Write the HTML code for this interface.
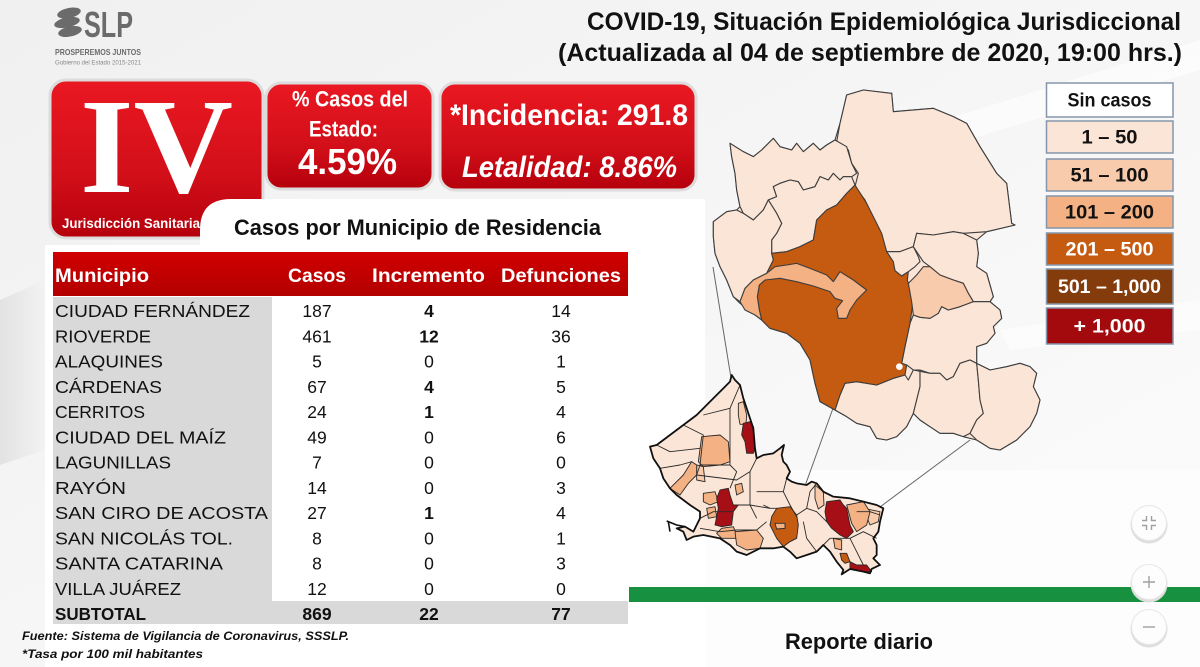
<!DOCTYPE html>
<html><head><meta charset="utf-8"><style>
html,body{margin:0;padding:0;background:#f6f6f6;}
svg{display:block;font-family:"Liberation Sans",sans-serif;}
</style></head><body>
<svg width="1200" height="667" viewBox="0 0 1200 667" xmlns="http://www.w3.org/2000/svg">
<defs>
<linearGradient id="bg" x1="0" y1="0" x2="1" y2="1">
<stop offset="0" stop-color="#f0f0f0"/><stop offset="0.5" stop-color="#f6f6f6"/><stop offset="1" stop-color="#fcfcfc"/>
</linearGradient>
<linearGradient id="red" x1="0" y1="0" x2="0" y2="1">
<stop offset="0" stop-color="#ea1822"/><stop offset="0.6" stop-color="#d20f19"/><stop offset="1" stop-color="#b4000c"/>
</linearGradient>
<linearGradient id="hdr" x1="0" y1="0" x2="0" y2="1">
<stop offset="0" stop-color="#d00000"/><stop offset="1" stop-color="#b30000"/>
</linearGradient>
<linearGradient id="streak" x1="0" y1="0" x2="1" y2="0">
<stop offset="0" stop-color="#dedede"/><stop offset="1" stop-color="#f2f2f2"/>
</linearGradient>
</defs>
<rect width="1200" height="667" fill="url(#bg)"/>
<polygon points="0,300 45,280 45,450 0,465" fill="url(#streak)" opacity="0.8"/>
<polygon points="880,140 1200,40 1200,70 900,160" fill="#ffffff" opacity="0.6"/>
<polygon points="1000,330 1200,300 1200,330 1010,350" fill="#ffffff" opacity="0.5"/>
<rect x="600" y="470" width="600" height="197" fill="#fdfdfd"/>

<!-- logo -->
<g fill="#6b6b6b">
<ellipse cx="69" cy="13" rx="12" ry="5" transform="rotate(-12 69 13)"/>
<ellipse cx="67" cy="22.5" rx="13" ry="5" transform="rotate(-12 67 22.5)"/>
<ellipse cx="70" cy="31.5" rx="12" ry="5" transform="rotate(-12 70 31.5)"/>
<text x="84" y="37" font-size="36" font-weight="bold" textLength="49" lengthAdjust="spacingAndGlyphs">SLP</text>
<text x="55" y="55" font-size="8.5" font-weight="bold" textLength="86" lengthAdjust="spacingAndGlyphs">PROSPEREMOS JUNTOS</text>
<text x="55" y="64.5" font-size="6.5" fill="#888" textLength="86" lengthAdjust="spacingAndGlyphs">Gobierno del Estado 2015-2021</text>
</g>

<!-- title -->
<text x="587" y="30" font-size="25" font-weight="bold" fill="#111" textLength="594" lengthAdjust="spacingAndGlyphs">COVID-19, Situación Epidemiológica Jurisdiccional</text>
<text x="558" y="61" font-size="25" font-weight="bold" fill="#111" textLength="624" lengthAdjust="spacingAndGlyphs">(Actualizada al 04 de septiembre de 2020, 19:00 hrs.)</text>

<!-- red boxes -->
<rect x="50" y="80" width="213" height="158" rx="16" fill="url(#red)" stroke="#dcdcdc" stroke-width="3"/>
<rect x="266" y="83" width="167" height="106" rx="15" fill="url(#red)" stroke="#dcdcdc" stroke-width="3"/>
<rect x="440" y="83" width="256" height="107" rx="15" fill="url(#red)" stroke="#dcdcdc" stroke-width="3"/>
<text x="80" y="192" font-family="Liberation Serif,serif" font-weight="bold" font-size="136" fill="#fff" textLength="153" lengthAdjust="spacingAndGlyphs">IV</text>
<text x="350" y="106.5" font-size="22" font-weight="bold" fill="#fff" text-anchor="middle" textLength="116" lengthAdjust="spacingAndGlyphs">% Casos del</text>
<text x="343.5" y="136.5" font-size="22" font-weight="bold" fill="#fff" text-anchor="middle" textLength="69" lengthAdjust="spacingAndGlyphs">Estado:</text>
<text x="347.5" y="174" font-size="36" font-weight="bold" fill="#fff" text-anchor="middle" textLength="99" lengthAdjust="spacingAndGlyphs">4.59%</text>
<text x="450" y="125" font-size="30" font-weight="bold" fill="#fff" textLength="238" lengthAdjust="spacingAndGlyphs">*Incidencia: 291.8</text>
<text x="462" y="177" font-size="30" font-weight="bold" font-style="italic" fill="#fff" textLength="215" lengthAdjust="spacingAndGlyphs">Letalidad: 8.86%</text>

<!-- white panel -->
<path d="M45,245 H200 V230 Q200,199 231,199 H705 V667 H45 Z" fill="#ffffff"/>
<text x="62" y="228" font-size="14" font-weight="bold" fill="#fff" textLength="138" lengthAdjust="spacingAndGlyphs">Jurisdicción Sanitaria</text>
<text x="234" y="235" font-size="22" font-weight="bold" fill="#111" textLength="367" lengthAdjust="spacingAndGlyphs">Casos por Municipio  de Residencia</text>

<!-- table -->
<rect x="53" y="252" width="575" height="44" fill="url(#hdr)"/>
<rect x="53" y="297" width="219" height="304" fill="#d9d9d9"/>
<rect x="53" y="601" width="575" height="23" fill="#d9d9d9"/>
<g font-size="19" font-weight="bold" fill="#fff">
<text x="55" y="282" textLength="94" lengthAdjust="spacingAndGlyphs">Municipio</text>
<text x="317" y="282" text-anchor="middle" textLength="58" lengthAdjust="spacingAndGlyphs">Casos</text>
<text x="428.5" y="282" text-anchor="middle" textLength="113" lengthAdjust="spacingAndGlyphs">Incremento</text>
<text x="561" y="282" text-anchor="middle" textLength="120" lengthAdjust="spacingAndGlyphs">Defunciones</text>
</g>
<g font-size="17.5" fill="#111">
<text x="55" y="317" textLength="195" lengthAdjust="spacingAndGlyphs">CIUDAD FERNÁNDEZ</text>
<text x="55" y="342.25" textLength="96" lengthAdjust="spacingAndGlyphs">RIOVERDE</text>
<text x="55" y="367.5" textLength="108" lengthAdjust="spacingAndGlyphs">ALAQUINES</text>
<text x="55" y="392.75" textLength="107" lengthAdjust="spacingAndGlyphs">CÁRDENAS</text>
<text x="55" y="418" textLength="90" lengthAdjust="spacingAndGlyphs">CERRITOS</text>
<text x="55" y="443.25" textLength="171" lengthAdjust="spacingAndGlyphs">CIUDAD DEL MAÍZ</text>
<text x="55" y="468.5" textLength="116" lengthAdjust="spacingAndGlyphs">LAGUNILLAS</text>
<text x="55" y="493.75" textLength="71" lengthAdjust="spacingAndGlyphs">RAYÓN</text>
<text x="55" y="519" textLength="213" lengthAdjust="spacingAndGlyphs">SAN CIRO DE ACOSTA</text>
<text x="55" y="544.25" textLength="178" lengthAdjust="spacingAndGlyphs">SAN NICOLÁS TOL.</text>
<text x="55" y="569.5" textLength="168" lengthAdjust="spacingAndGlyphs">SANTA CATARINA</text>
<text x="55" y="594.75" textLength="126" lengthAdjust="spacingAndGlyphs">VILLA JUÁREZ</text>
</g>
<g font-size="17.5" fill="#111" text-anchor="middle">
<text x="317" y="317">187</text><text x="317" y="342.25">461</text><text x="317" y="367.5">5</text>
<text x="317" y="392.75">67</text><text x="317" y="418">24</text><text x="317" y="443.25">49</text>
<text x="317" y="468.5">7</text><text x="317" y="493.75">14</text><text x="317" y="519">27</text>
<text x="317" y="544.25">8</text><text x="317" y="569.5">8</text><text x="317" y="594.75">12</text>
<text x="429" y="317" font-weight="bold">4</text><text x="429" y="342.25" font-weight="bold">12</text><text x="429" y="367.5">0</text>
<text x="429" y="392.75" font-weight="bold">4</text><text x="429" y="418" font-weight="bold">1</text><text x="429" y="443.25">0</text>
<text x="429" y="468.5">0</text><text x="429" y="493.75">0</text><text x="429" y="519" font-weight="bold">1</text>
<text x="429" y="544.25">0</text><text x="429" y="569.5">0</text><text x="429" y="594.75">0</text>
<text x="561" y="317">14</text><text x="561" y="342.25">36</text><text x="561" y="367.5">1</text>
<text x="561" y="392.75">5</text><text x="561" y="418">4</text><text x="561" y="443.25">6</text>
<text x="561" y="468.5">0</text><text x="561" y="493.75">3</text><text x="561" y="519">4</text>
<text x="561" y="544.25">1</text><text x="561" y="569.5">3</text><text x="561" y="594.75">0</text>
</g>
<g font-size="17.5" font-weight="bold" fill="#111">
<text x="55" y="620" textLength="91" lengthAdjust="spacingAndGlyphs">SUBTOTAL</text>
<text x="317" y="620" text-anchor="middle">869</text>
<text x="429" y="620" text-anchor="middle">22</text>
<text x="561" y="620" text-anchor="middle">77</text>
</g>
<text x="22" y="640" font-size="12" font-weight="bold" font-style="italic" fill="#111" textLength="327" lengthAdjust="spacingAndGlyphs">Fuente: Sistema de Vigilancia de Coronavirus, SSSLP.</text>
<text x="22" y="658" font-size="12" font-weight="bold" font-style="italic" fill="#111" textLength="181" lengthAdjust="spacingAndGlyphs">*Tasa por 100 mil habitantes</text>

<!-- green bar -->
<rect x="629" y="587" width="571" height="15" fill="#17903f"/>
<text x="785" y="649" font-size="22" font-weight="bold" fill="#111" textLength="148" lengthAdjust="spacingAndGlyphs">Reporte diario</text>

<!-- connector lines -->
<g stroke="#666" stroke-width="1" fill="none">
<line x1="713" y1="267" x2="750" y2="495"/>
<line x1="836" y1="400" x2="783" y2="547"/>
<line x1="970" y1="440" x2="880" y2="507"/>
</g>

<!-- upper map -->
<g transform="translate(700,80) scale(0.33333)" stroke="#3d3d3d" stroke-width="1.1" stroke-linejoin="round">
<g fill="#fbe5d6">
<polygon vector-effect="non-scaling-stroke" points="440,45 490,30 575,40 580,95 700,85 760,110 800,130 840,200 890,280 920,310 935,430 945,435 860,455 830,480 835,520 830,560 860,580 880,650 870,665 900,690 905,715 880,740 885,760 860,790 830,800 830,850 870,870 920,860 960,850 990,860 1010,880 1000,920 1020,960 1010,1000 990,1040 950,1080 900,1110 870,1105 830,1080 790,1070 760,1060 720,1060 690,1040 660,1020 640,1000 620,1040 590,1070 560,1080 530,1075 510,1040 470,1030 440,1010 405,990 360,965 345,910 330,840 300,790 260,760 210,745 185,720 160,700 120,670 100,650 80,600 60,560 45,520 40,470 40,425 80,395 110,390 120,380 110,330 105,280 95,230 90,190 130,215 160,230 185,210 220,175 240,200 275,210 290,190 310,215 340,190 360,210 380,195 405,180 420,130"/>
<polygon vector-effect="non-scaling-stroke" points="440,45 490,30 575,40 580,95 700,85 760,110 800,130 840,200 890,280 920,310 935,430 945,435 860,455 790,460 760,455 700,465 650,460 640,500 600,515 560,515 545,470 520,420 495,360 465,320 475,280 455,250 445,210 410,185 420,130"/>
<polygon vector-effect="non-scaling-stroke" points="90,190 130,215 160,230 185,210 220,175 240,200 275,210 290,190 310,215 340,190 360,210 380,195 405,180 440,200 455,250 470,280 455,290 430,290 420,300 400,280 385,300 360,290 345,320 310,330 295,305 270,300 240,310 220,320 230,350 205,360 190,390 160,420 130,400 120,380 110,330 105,280 95,230"/>
<polygon vector-effect="non-scaling-stroke" points="220,320 240,310 270,300 295,305 310,330 345,320 360,290 385,300 400,280 420,300 430,290 455,290 465,315 440,340 410,375 380,390 350,420 340,480 300,500 260,515 215,520 215,480 230,460 245,430 230,400 205,360 230,350"/>
<polygon vector-effect="non-scaling-stroke" points="40,425 80,395 110,390 130,400 160,420 190,390 205,360 230,400 245,430 230,460 215,480 215,520 220,540 200,580 160,600 135,625 120,665 100,650 80,600 60,560 45,520 40,470"/>
<polygon vector-effect="non-scaling-stroke" points="640,500 650,460 700,465 760,455 790,460 830,480 835,520 830,560 860,580 880,650 870,665 820,665 805,640 790,610 760,600 720,585 690,560 670,545 660,530 650,515"/>
<polygon vector-effect="non-scaling-stroke" points="630,730 640,705 660,712 690,715 715,700 725,680 745,690 780,680 820,665 870,665 900,690 905,715 880,740 885,760 860,790 830,800 830,850 810,840 780,850 760,890 740,900 720,880 690,880 660,870 640,870 620,855 605,850 615,800"/>
<polygon vector-effect="non-scaling-stroke" points="405,990 420,945 435,910 470,905 530,915 580,895 615,885 625,900 640,870 660,870 660,920 650,960 640,1000 620,1040 590,1070 560,1080 530,1075 510,1040 470,1030 440,1010"/>
<polygon vector-effect="non-scaling-stroke" points="640,870 690,880 720,880 740,900 760,890 780,850 810,840 830,850 835,900 840,960 850,1000 830,1020 810,1060 790,1070 760,1060 720,1060 690,1040 660,1020 640,1000 650,960 660,920 660,870"/>
<polygon vector-effect="non-scaling-stroke" points="830,850 870,870 920,860 960,850 990,860 1010,880 1000,920 1020,960 1010,1000 990,1040 950,1080 900,1110 870,1105 830,1080 810,1060 830,1020 850,1000 840,960 835,900"/>
<polygon vector-effect="non-scaling-stroke" points="560,515 600,515 640,500 655,530 660,545 645,560 625,575 605,588 585,572 578,545"/>
</g>
<polygon vector-effect="non-scaling-stroke" fill="#c55a11" points="465,315 500,370 545,460 560,515 580,545 585,572 605,588 625,575 622,600 640,660 630,730 615,800 605,850 620,855 615,885 580,895 530,915 470,905 435,910 420,945 405,990 360,965 345,910 330,840 300,790 260,760 210,745 185,720 178,690 172,650 178,615 195,600 200,580 220,540 215,520 260,515 300,500 340,480 350,420 380,390 410,375 440,340"/>
<polygon vector-effect="non-scaling-stroke" fill="#f4b183" points="120,665 135,625 160,600 200,580 225,560 260,555 290,550 330,565 380,585 400,605 420,575 460,600 500,630 470,660 450,690 440,715 415,715 410,685 428,662 405,655 390,635 340,618 290,605 240,595 195,600 178,615 172,650 178,690 185,720 165,705 135,690"/>
<polygon vector-effect="non-scaling-stroke" fill="#f8cbad" points="625,610 650,585 670,560 690,560 720,585 760,600 790,610 805,640 820,665 780,680 745,690 725,680 715,700 690,715 660,712 640,705 635,665"/>
<circle cx="598" cy="860" r="10" fill="#fff" stroke="none"/>
</g>

<!-- state map -->
<g transform="translate(650,365) scale(0.33333)" stroke-linejoin="round">
<polygon fill="#fbe5d6" stroke="none" points="245,30 255,45 270,60 280,100 290,130 300,160 310,190 315,250 320,280 340,270 370,265 390,250 402,240 395,270 400,290 410,300 420,320 410,340 425,350 440,355 470,360 485,350 500,355 520,380 550,395 600,400 640,410 680,420 700,430 695,450 690,470 685,500 670,520 680,540 680,570 670,580 690,600 665,612 660,625 640,620 600,612 575,628 580,615 560,590 540,560 520,540 500,560 470,570 440,580 420,560 400,545 370,550 330,550 290,570 260,560 240,540 210,520 160,510 130,515 110,525 100,500 80,490 105,485 130,500 140,480 150,460 150,440 120,420 80,390 60,370 40,340 30,310 10,280 0,245 20,240 60,210 100,180 140,150 170,120 200,90 220,70 240,50"/>
<g stroke="#2a2a2a" stroke-width="0.9">
<g fill="#f8cbad">
<polygon vector-effect="non-scaling-stroke" points="265,115 280,110 290,150 288,178 270,178 265,150"/>
<polygon vector-effect="non-scaling-stroke" points="495,360 520,380 522,420 505,432 495,400"/>
<polygon vector-effect="non-scaling-stroke" points="640,430 690,440 685,470 660,480 650,455"/>
<polygon vector-effect="non-scaling-stroke" points="140,300 160,305 165,350 140,345"/>
</g>
<g fill="#f4b183">
<polygon vector-effect="non-scaling-stroke" points="155,215 210,210 235,230 240,290 210,300 160,305 145,290"/>
<polygon vector-effect="non-scaling-stroke" points="60,370 100,330 125,290 140,300 140,330 115,355 90,390"/>
<polygon vector-effect="non-scaling-stroke" points="160,385 195,380 205,410 180,420 160,410"/>
<polygon vector-effect="non-scaling-stroke" points="215,490 250,485 265,520 215,520 200,505"/>
<polygon vector-effect="non-scaling-stroke" points="255,500 320,495 340,520 330,550 290,555 260,540"/>
<polygon vector-effect="non-scaling-stroke" points="590,420 640,410 660,440 650,480 620,500 605,475"/>
<polygon vector-effect="non-scaling-stroke" points="550,520 575,525 575,555 555,550"/>
<polygon vector-effect="non-scaling-stroke" points="255,360 275,355 280,380 260,390"/>
<polygon vector-effect="non-scaling-stroke" points="170,430 195,425 200,455 175,460"/>
</g>
<g fill="#a50f15">
<polygon vector-effect="non-scaling-stroke" points="280,175 300,170 310,185 315,250 310,265 290,265 285,230 275,210"/>
<polygon vector-effect="non-scaling-stroke" points="210,375 235,370 240,390 250,420 265,420 250,440 245,480 215,485 195,480 200,455 205,430 200,400"/>
<polygon vector-effect="non-scaling-stroke" points="530,410 570,405 580,420 590,430 600,480 610,500 590,520 570,510 545,490 530,470 525,440"/>
<polygon vector-effect="non-scaling-stroke" points="600,590 620,600 650,600 665,620 640,620 600,610"/>
</g>
<g fill="#c55a11">
<polygon vector-effect="non-scaling-stroke" points="380,430 420,425 440,450 445,480 440,520 420,530 400,545 380,520 370,500 360,480 365,455"/>
<polygon vector-effect="non-scaling-stroke" points="570,565 590,565 600,590 585,595 575,585"/>
</g>
<polygon vector-effect="non-scaling-stroke" fill="#f4b183" points="375,475 405,475 405,490 380,492"/>
<g fill="none">
<polyline vector-effect="non-scaling-stroke" points="100,180 160,210 150,300 140,330"/>
<polyline vector-effect="non-scaling-stroke" points="20,240 60,260 150,250"/>
<polyline vector-effect="non-scaling-stroke" points="160,150 240,130 270,60"/>
<polyline vector-effect="non-scaling-stroke" points="240,130 240,300 260,320 240,370"/>
<polyline vector-effect="non-scaling-stroke" points="150,300 240,300"/>
<polyline vector-effect="non-scaling-stroke" points="140,330 260,345 300,320 320,280"/>
<polyline vector-effect="non-scaling-stroke" points="300,320 300,420 320,460"/>
<polyline vector-effect="non-scaling-stroke" points="320,380 400,380 410,340"/>
<polyline vector-effect="non-scaling-stroke" points="400,380 420,420 440,455"/>
<polyline vector-effect="non-scaling-stroke" points="260,420 300,420 360,430 380,430"/>
<polyline vector-effect="non-scaling-stroke" points="150,460 190,440 250,440"/>
<polyline vector-effect="non-scaling-stroke" points="150,490 210,500 260,495 320,495 350,470"/>
<polyline vector-effect="non-scaling-stroke" points="440,450 470,430 500,440 530,470"/>
<polyline vector-effect="non-scaling-stroke" points="470,430 480,380 500,355"/>
<polyline vector-effect="non-scaling-stroke" points="460,470 470,520 500,560"/>
<polyline vector-effect="non-scaling-stroke" points="520,540 540,520 600,520 640,500 680,520"/>
<polyline vector-effect="non-scaling-stroke" points="600,520 620,560 640,600"/>
<polyline vector-effect="non-scaling-stroke" points="620,440 660,440 690,450"/>
<polyline vector-effect="non-scaling-stroke" points="30,310 90,300 125,290"/>
<polyline vector-effect="non-scaling-stroke" points="40,340 60,370"/>
<polyline vector-effect="non-scaling-stroke" points="340,420 360,430"/>
</g>
</g>
<polygon vector-effect="non-scaling-stroke" fill="none" stroke="#111" stroke-width="1.8" points="245,30 255,45 270,60 280,100 290,130 300,160 310,190 315,250 320,280 340,270 370,265 390,250 402,240 395,270 400,290 410,300 420,320 410,340 425,350 440,355 470,360 485,350 500,355 520,380 550,395 600,400 640,410 680,420 700,430 695,450 690,470 685,500 670,520 680,540 680,570 670,580 690,600 665,612 660,625 640,620 600,612 575,628 580,615 560,590 540,560 520,540 500,560 470,570 440,580 420,560 400,545 370,550 330,550 290,570 260,560 240,540 210,520 160,510 130,515 110,525 100,500 80,490 105,485 130,500 140,480 150,460 150,440 120,420 80,390 60,370 40,340 30,310 10,280 0,245 20,240 60,210 100,180 140,150 170,120 200,90 220,70 240,50"/>
<polyline vector-effect="non-scaling-stroke" fill="none" stroke="#111" stroke-width="1.6" points="50,468 80,480 105,485"/>
<polyline vector-effect="non-scaling-stroke" fill="none" stroke="#111" stroke-width="1.6" points="55,470 60,500"/>
</g>

<!-- legend -->
<g stroke="#8496ab" stroke-width="1.5">
<rect x="1046.5" y="83" width="126.5" height="34" fill="#ffffff"/>
<rect x="1046.5" y="121" width="126.5" height="32" fill="#fbe5d6"/>
<rect x="1046.5" y="159" width="126.5" height="32" fill="#f8cbad"/>
<rect x="1046.5" y="196" width="126.5" height="32" fill="#f4b183"/>
<rect x="1046.5" y="233" width="126.5" height="32" fill="#c55a11"/>
<rect x="1046.5" y="269" width="126.5" height="35" fill="#843c0c"/>
<rect x="1046.5" y="308" width="126.5" height="36" fill="#a20a0e"/>
</g>
<g font-size="19" font-weight="bold" text-anchor="middle">
<text x="1109.5" y="106.5" fill="#111" textLength="84" lengthAdjust="spacingAndGlyphs">Sin casos</text>
<text x="1109.5" y="143.5" fill="#111" textLength="56" lengthAdjust="spacingAndGlyphs">1 – 50</text>
<text x="1109.5" y="181.5" fill="#111" textLength="78" lengthAdjust="spacingAndGlyphs">51 – 100</text>
<text x="1109.5" y="218.5" fill="#111" textLength="89" lengthAdjust="spacingAndGlyphs">101 – 200</text>
<text x="1109.5" y="255.5" fill="#fff" textLength="88" lengthAdjust="spacingAndGlyphs">201 – 500</text>
<text x="1109.5" y="293" fill="#fff" textLength="103" lengthAdjust="spacingAndGlyphs">501 – 1,000</text>
<text x="1109.5" y="332.5" fill="#fff" textLength="72" lengthAdjust="spacingAndGlyphs">+ 1,000</text>
</g>

<!-- circle buttons -->
<g>
<circle cx="1149" cy="525" r="18.5" fill="#dedede"/>
<circle cx="1149" cy="523" r="17.5" fill="#fdfdfd" stroke="#e6e6e6" stroke-width="1"/>
<circle cx="1149" cy="584" r="18.5" fill="#dedede"/>
<circle cx="1149" cy="582" r="17.5" fill="#fdfdfd" stroke="#e6e6e6" stroke-width="1"/>
<circle cx="1149" cy="629" r="18.5" fill="#dedede"/>
<circle cx="1149" cy="627" r="17.5" fill="#fdfdfd" stroke="#e6e6e6" stroke-width="1"/>
<g stroke="#a0a0a0" stroke-width="1.4" fill="none">
<path d="M1142,520.5 h4.5 v-4.5 M1156,520.5 h-4.5 v-4.5 M1142,525.5 h4.5 v4.5 M1156,525.5 h-4.5 v4.5"/>
<path d="M1143,582 h12 M1149,576 v12"/>
<path d="M1143,627 h12"/>
</g>
</g>
</svg>
</body></html>
